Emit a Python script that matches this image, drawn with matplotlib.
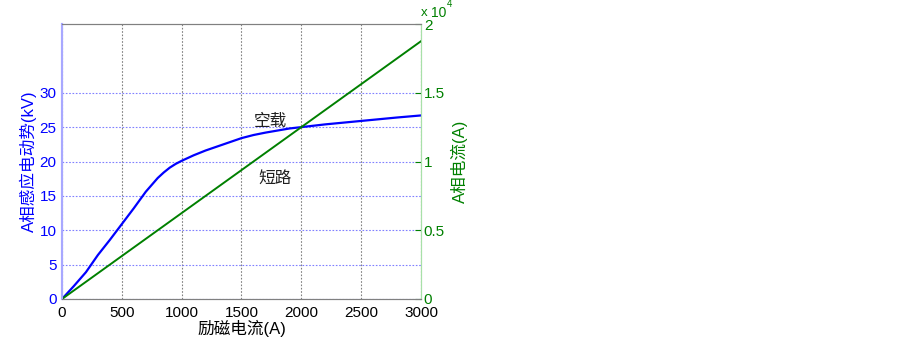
import matplotlib
matplotlib.use("Agg")
import matplotlib.pyplot as plt
import numpy as np

plt.rcParams['font.family'] = ['Liberation Sans', 'Noto Sans CJK SC', 'DejaVu Sans']

# Data
excitation = [0, 100, 200, 300, 400, 500, 600, 700, 800, 850, 900, 950, 1000, 1100, 1200,
              1300, 1400, 1500, 1600, 1700, 1800, 1900, 2000, 2200, 2500, 2800, 3000]
emf_kv = [0, 1.9, 3.9, 6.4, 8.6, 10.9, 13.2, 15.6, 17.6, 18.4, 19.1, 19.65, 20.1, 20.9, 21.6,
          22.2, 22.8, 23.4, 23.85, 24.2, 24.5, 24.8, 25.0, 25.4, 25.9, 26.4, 26.7]
sc_x = [0, 3000]
sc_current = [0, 18750]

xticks = [0, 500, 1000, 1500, 2000, 2500, 3000]
left_ticks = [0, 5, 10, 15, 20, 25, 30]
right_ticks = [0, 5000, 10000, 15000, 20000]
right_labels = ['0', '0.5', '1', '1.5', '2']

fig = plt.figure(figsize=(9.03, 3.42), dpi=100)
ax = fig.add_axes([62/903, 1-299/342, 359/903, 275/342])
ax2 = ax.twinx()

ax.plot(excitation, emf_kv, color='#0000ff', lw=1.6)
ax2.plot(sc_x, sc_current, color='#008000', lw=1.4)

ax.set_xlim(0, 3000)
ax.set_ylim(0, 40)
ax2.set_ylim(0, 20000)
ax.set_xticks(xticks)
ax.set_yticks(left_ticks)
ax2.set_yticks(right_ticks)
ax2.set_yticklabels(right_labels)

ax.grid(axis='x', color='#808080', ls=(0, (1.5, 1.5)), lw=0.8)
ax.grid(axis='y', color='#8080ff', ls=(0, (1.5, 1.5)), lw=0.8)

for a in (ax, ax2):
    a.spines['top'].set_color('#808080')
    a.spines['bottom'].set_color('#808080')
    a.spines['left'].set_color('#a8a8ff')
    a.spines['left'].set_linewidth(1.5)
    a.spines['right'].set_color('#a8e0a8')

ax.tick_params(axis='y', colors='#0000ff', labelsize=11, direction='in', length=0, pad=4)
ax.tick_params(axis='x', colors='#808080', labelcolor='black', labelsize=11, direction='in', length=0, pad=5)
ax2.tick_params(axis='y', colors='#008000', labelsize=11, direction='in', length=4, pad=2)

ax.set_xlabel('励磁电流(A)', fontsize=12, labelpad=0)
ax.set_ylabel('A相感应电动势(kV)', fontsize=12, color='#0000ff', labelpad=2)
ax2.set_ylabel('A相电流(A)', fontsize=12, color='#008000', labelpad=4)

ax.text(1600, 25.9, '空载', fontsize=12, color='#202020', va='center', family=['Noto Sans CJK SC'])
ax.text(1640, 17.6, '短路', fontsize=12, color='#202020', va='center', family=['Noto Sans CJK SC'])

fig.text(421/903, 1-16/342, 'x', fontsize=9.5, color='#008000', va='baseline')
fig.text(431/903, 1-17/342, '10', fontsize=10, color='#008000', va='baseline')
fig.text(447/903, 1-7/342, '4', fontsize=7, color='#008000', va='baseline')

fig.savefig('out.png', dpi=100)
